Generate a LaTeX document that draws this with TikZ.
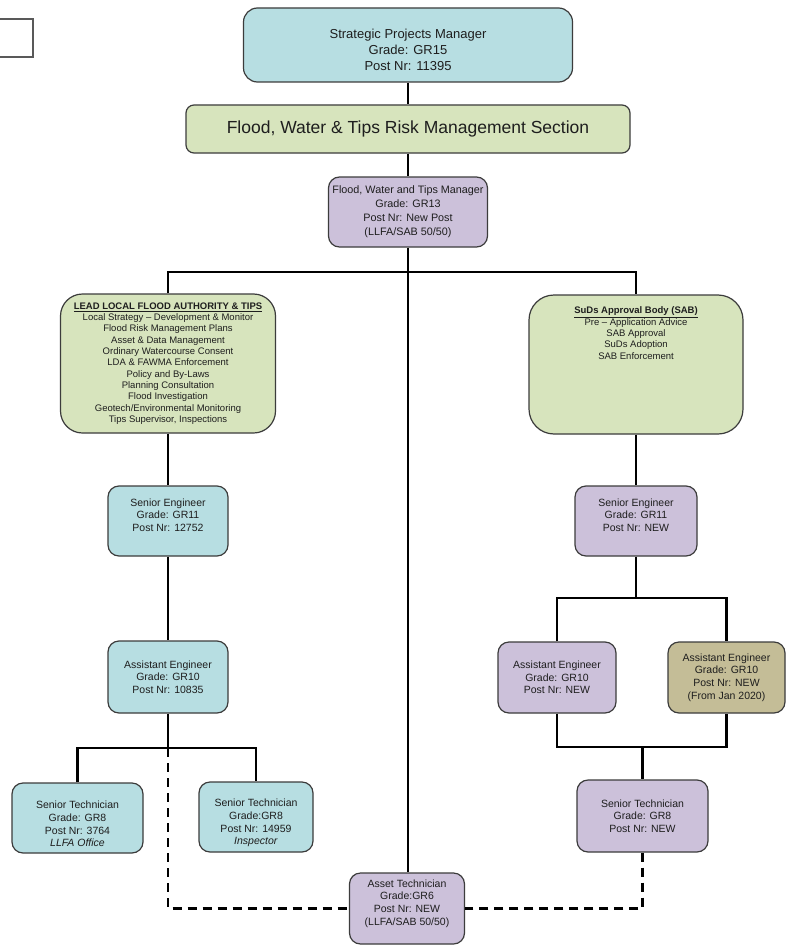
\documentclass[tikz,border=0pt]{standalone}
\usepackage{fontspec}
\setmainfont{Liberation Sans}
\definecolor{cy}{HTML}{B7DEE2}
\definecolor{gr}{HTML}{D7E4BD}
\definecolor{pu}{HTML}{CCC1DA}
\definecolor{kh}{HTML}{C4BD97}
\definecolor{bd}{HTML}{3C3C3C}
\definecolor{tx}{HTML}{1E1E1E}
\tikzset{
  box/.style={draw=bd, line width=1.2pt, rounded corners=11pt, align=center,
    inner sep=0pt, text=tx, font=\fontsize{10.5}{12.7}\selectfont},
  lbl/.style={align=center, inner sep=0pt, text=tx, font=\fontsize{10.5}{12.7}\selectfont},
  conn/.style={line width=2.9pt, black},
  dconn/.style={conn, dash pattern=on 9pt off 6pt},
}
\begin{document}
\begin{tikzpicture}[x=1pt,y=-1pt]
\useasboundingbox (0,0) rectangle (787,947);
\fill[white] (0,0) rectangle (787,947);
\node[draw=gray!70!black, line width=1.2pt, minimum width=40pt, minimum height=38pt, inner sep=0pt] (blank) at (13,38) {};

\node[box, fill=cy, rounded corners=14pt, minimum width=329pt, minimum height=74pt] (top) at (408,45) {};
\node[lbl, font=\fontsize{13}{16}\selectfont] (toptxt) at ([yshift=-5pt]top.center)
  {Strategic Projects Manager\\Grade: GR15\\Post Nr: 11395};
\node[box, fill=gr, rounded corners=8pt, minimum width=444pt, minimum height=48pt,
  font=\fontsize{17.5}{20}\selectfont] (bar) at (408,129)
  {Flood, Water \& Tips Risk Management Section};
\node[box, fill=pu, minimum width=159pt, minimum height=70pt,
  font=\fontsize{10.8}{14}\selectfont] (mgr) at (408,212)
  {Flood, Water and Tips Manager\\Grade: GR13\\Post Nr: New Post\\(LLFA/SAB 50/50)};

\node[box, fill=gr, rounded corners=22pt, minimum width=215pt, minimum height=139pt,
  font=\fontsize{9.5}{11.3}\selectfont] (llfa) at (168,363.5)
  {\underline{\textbf{LEAD LOCAL FLOOD AUTHORITY \& TIPS}}\\
   Local Strategy – Development \& Monitor\\
   Flood Risk Management Plans\\
   Asset \& Data Management\\
   Ordinary Watercourse Consent\\
   LDA \& FAWMA Enforcement\\
   Policy and By-Laws\\
   Planning Consultation\\
   Flood Investigation\\
   Geotech/Environmental Monitoring\\
   Tips Supervisor, Inspections};
\node[box, fill=gr, rounded corners=25pt, minimum width=214pt, minimum height=139pt,
  font=\fontsize{9.5}{11.3}\selectfont] (sab) at (636,364.5)
  {\begin{minipage}[c][115pt][t]{200pt}\centering
   \underline{\textbf{SuDs Approval Body (SAB)}}\\
   Pre – Application Advice\\
   SAB Approval\\
   SuDs Adoption\\
   SAB Enforcement\end{minipage}};

\node[box, fill=cy, minimum width=120pt, minimum height=70pt] (se1) at (168,521) {};
\node[lbl] (se1txt) at ([yshift=6pt]se1.center) {Senior Engineer\\Grade: GR11\\Post Nr: 12752};
\node[box, fill=pu, minimum width=122pt, minimum height=70pt] (se2) at (636,521) {};
\node[lbl] (se2txt) at ([yshift=6pt]se2.center) {Senior Engineer\\Grade: GR11\\Post Nr: NEW};
\node[box, fill=cy, minimum width=120pt, minimum height=72pt] (ae1) at (168,677)
  {Assistant Engineer\\Grade: GR10\\Post Nr: 10835};
\node[box, fill=pu, minimum width=118pt, minimum height=71pt] (ae2) at (557,677.5)
  {Assistant Engineer\\Grade: GR10\\Post Nr: NEW};
\node[box, fill=kh, minimum width=117pt, minimum height=71pt] (ae3) at (726.5,677.5)
  {Assistant Engineer\\Grade: GR10\\Post Nr: NEW\\(From Jan 2020)};
\node[box, fill=cy, minimum width=131pt, minimum height=70pt] (st1) at (77.5,818) {};
\node[lbl] (st1txt) at ([yshift=-6pt]st1.center)
  {Senior Technician\\Grade: GR8\\Post Nr: 3764\\\textit{LLFA Office}};
\node[box, fill=cy, minimum width=114pt, minimum height=70pt] (st2) at (256,817) {};
\node[lbl] (st2txt) at ([yshift=-6pt]st2.center)
  {Senior Technician\\Grade:GR8\\Post Nr: 14959\\\textit{Inspector}};
\node[box, fill=pu, minimum width=131pt, minimum height=72pt] (st3) at (642.5,816)
  {Senior Technician\\Grade: GR8\\Post Nr: NEW};
\node[box, fill=pu, minimum width=115pt, minimum height=71pt] (at) at (407,908.5) {};
\node[lbl] (attxt) at ([yshift=5pt]at.center)
  {Asset Technician\\Grade:GR6\\Post Nr: NEW\\(LLFA/SAB 50/50)};

\coordinate (j1) at (408,272);
\coordinate (j2) at (168,748);
\coordinate (j3) at (636,598);
\coordinate (j4) at (642.5,747);

\draw[conn] (top.south) -- (bar.north);
\draw[conn] (bar.south) -- (mgr.north);
\draw[conn] (mgr.south) -- (mgr.south |- at.north);
\draw[conn] (llfa.north) -- (llfa.north |- j1) -- (sab.north |- j1) -- (sab.north);
\draw[conn] (llfa.south) -- (se1.north);
\draw[conn] (se1.south) -- (ae1.north);
\draw[conn] (ae1.south) -- (j2);
\draw[conn] (st1.north) -- (st1.north |- j2) -- (st2.north |- j2) -- (st2.north);
\draw[dconn] (j2) -- (j2 |- at.west) -- (at.west);
\draw[conn] (sab.south) -- (se2.north);
\draw[conn] (se2.south) -- (j3);
\draw[conn] (ae2.north) -- (ae2.north |- j3) -- (ae3.north |- j3) -- (ae3.north);
\draw[conn] (ae2.south) -- (ae2.south |- j4) -- (ae3.south |- j4) -- (ae3.south);
\draw[conn] (j4) -- (st3.north);
\draw[dconn] (st3.south) -- (st3.south |- at.east) -- (at.east);
\end{tikzpicture}
\end{document}
